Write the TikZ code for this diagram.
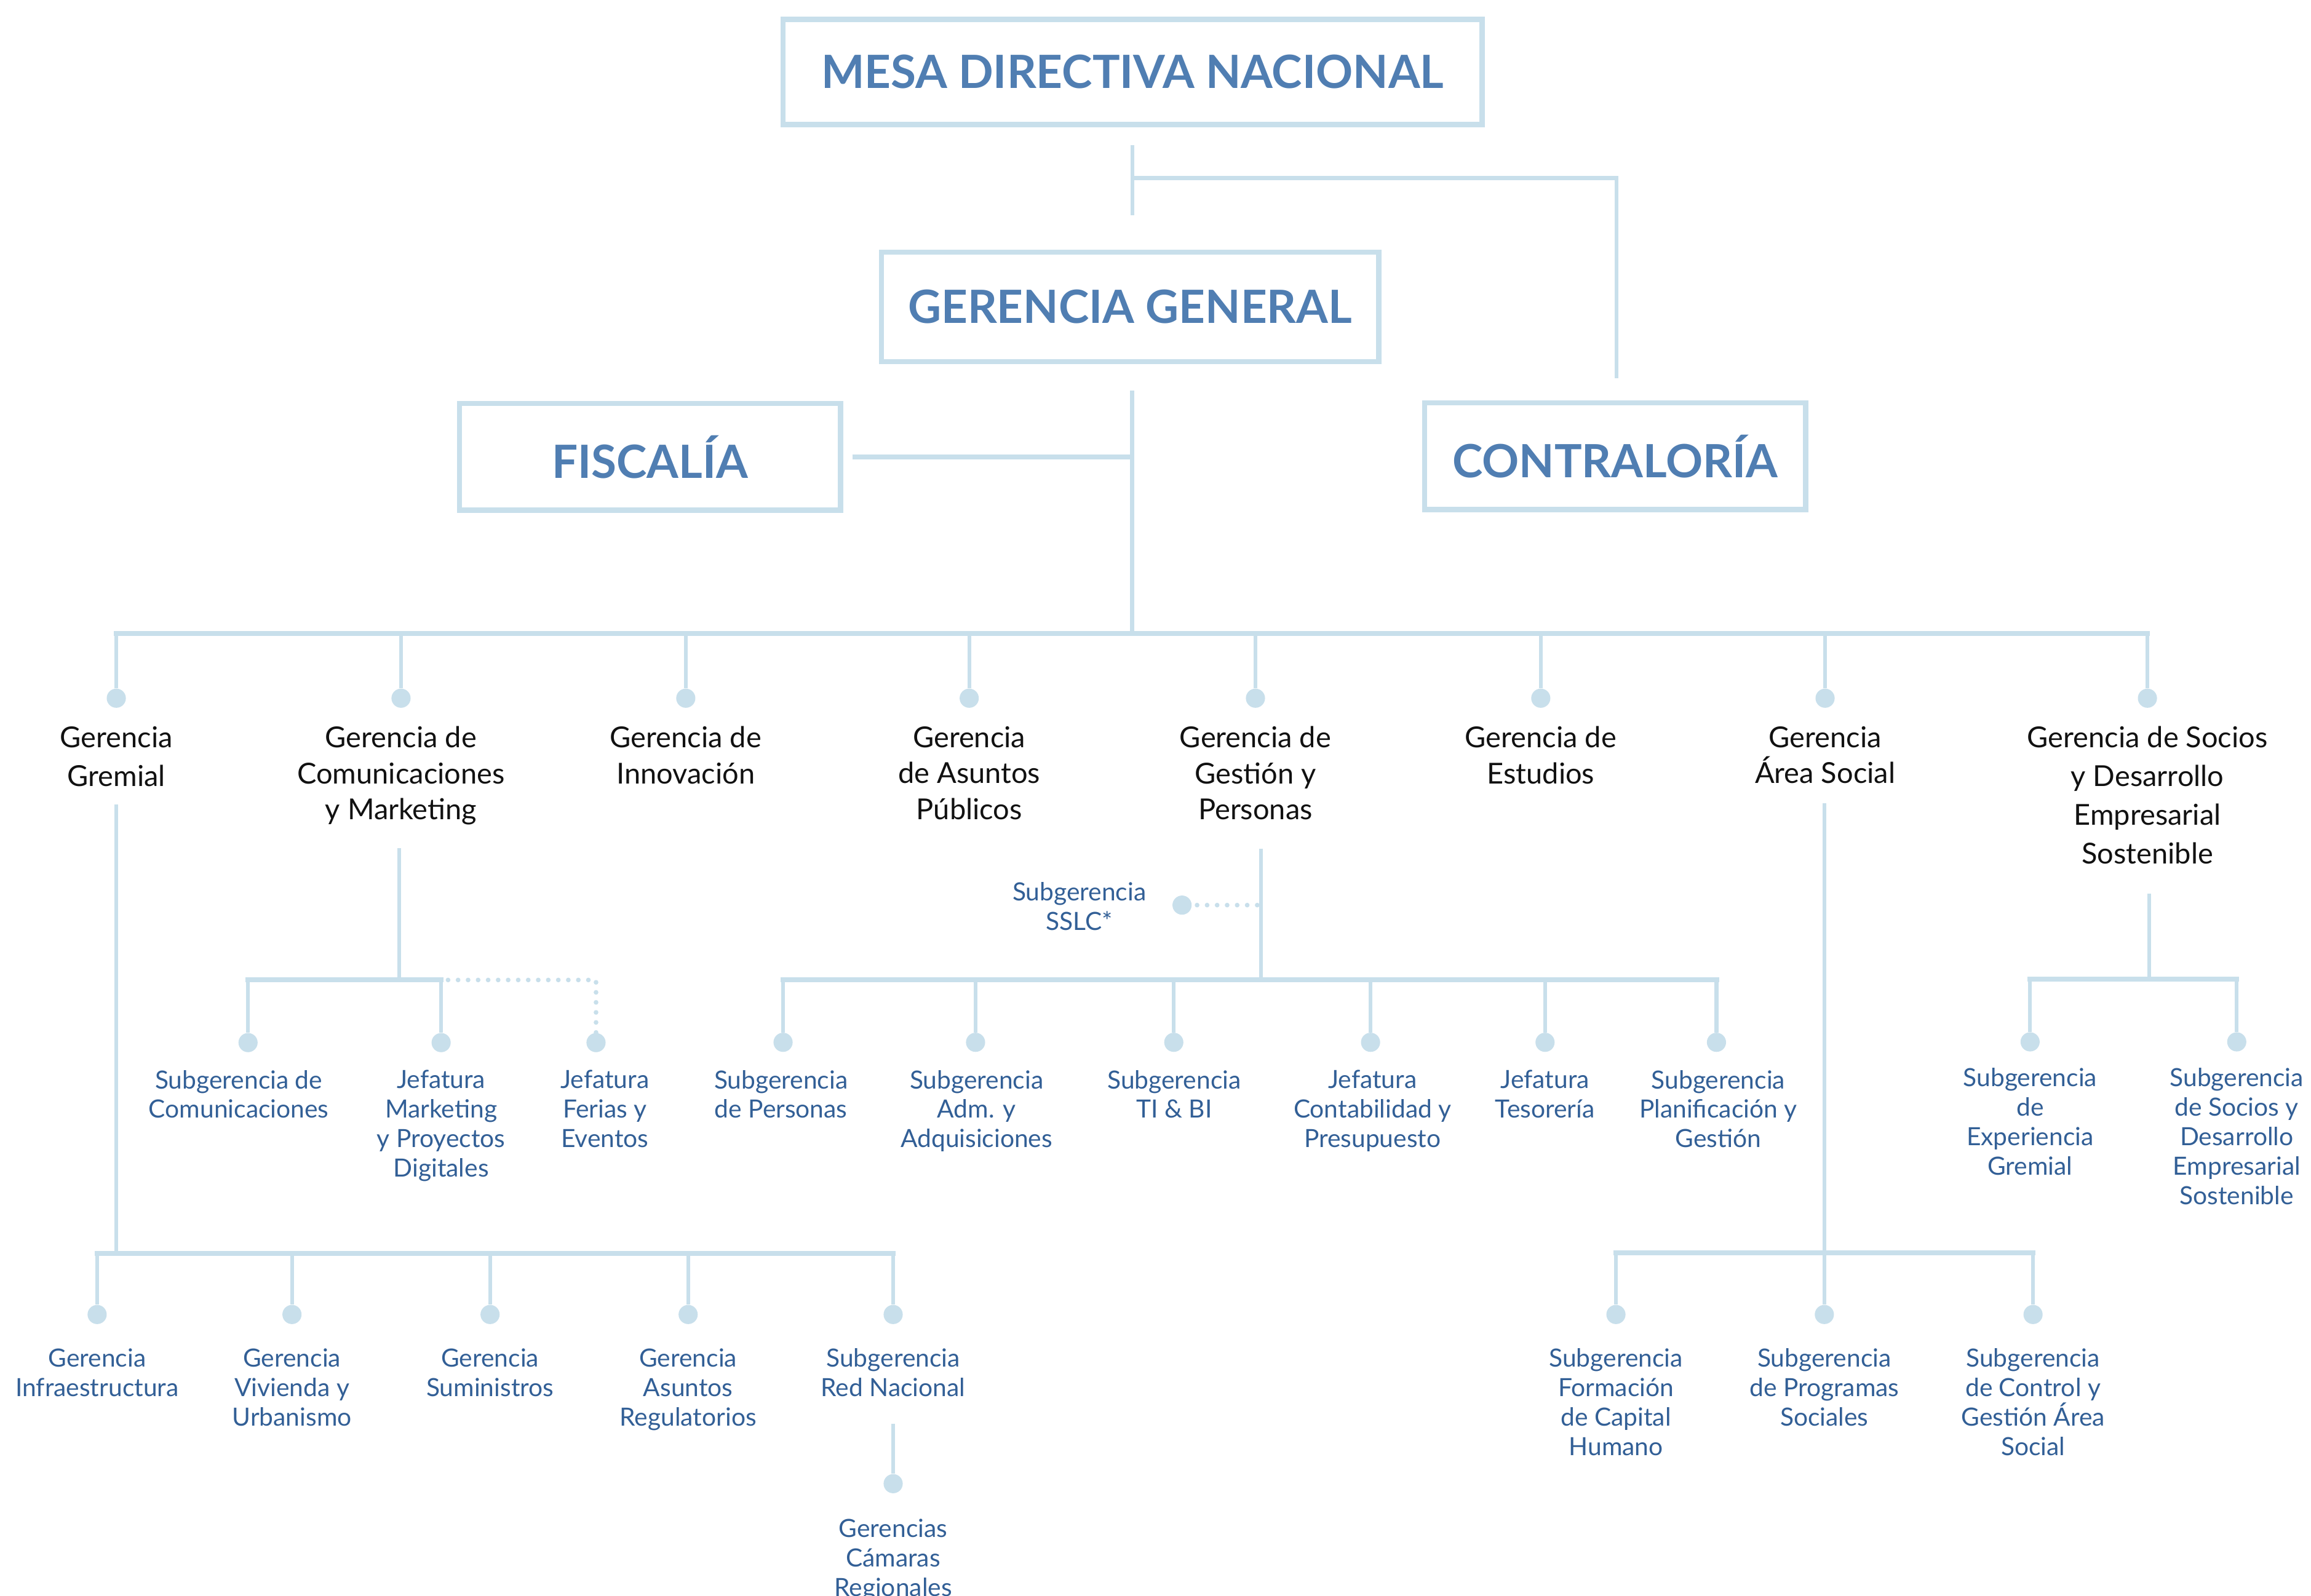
\documentclass[tikz,border=0pt]{standalone}
\usepackage{fontspec}
\setmainfont{Lato}
\definecolor{lb}{RGB}{200,223,235}
\definecolor{tb}{RGB}{80,126,178}
\definecolor{sb}{RGB}{50,95,150}
\definecolor{gk}{RGB}{17,17,17}
\tikzset{
  ln/.style={draw=lb, line width=2.6pt},
  busln/.style={draw=lb, line width=3.4pt, line cap=rect},
  dotln/.style={draw=lb, line width=3.2pt, line cap=round, dash pattern=on 0pt off 6.8pt},
  box/.style={draw=lb, line width=3.6pt, inner sep=0pt, text=tb,
    font=\fontsize{31.1}{36}\selectfont\bfseries},
  knob/.style={circle, fill=lb, inner sep=0pt, minimum size=13pt},
  gl/.style={anchor=north, inner sep=0pt, align=center, text=gk,
    font=\fontsize{19.6}{24.5}\selectfont, execute at begin node={\rule{0pt}{16pt}}},
  glw/.style={gl, font=\fontsize{19.6}{26.3}\selectfont},
  sl/.style={anchor=north, inner sep=0pt, align=center, text=sb,
    font=\fontsize{17}{20}\selectfont, execute at begin node={\rule{0pt}{13.36pt}}}
}
\begin{document}
\begin{tikzpicture}[x=1pt,y=-1pt]
\useasboundingbox (0,0) rectangle (1568,1083);
% top boxes
\node[box, minimum width=474.2pt, minimum height=71.3pt] (mesa) at (768.4,48.75) {MESA DIRECTIVA NACIONAL};
\node[box, minimum width=337.4pt, minimum height=74.3pt] (gg) at (766.7,208.2) {GERENCIA GENERAL};
\node[box, minimum width=258.6pt, minimum height=72.5pt] (fisc) at (441,310) {FISCALÍA};
\node[box, minimum width=258.5pt, minimum height=72.4pt] (contra) at (1095.9,309.6) {CONTRALORÍA};
% connectors top
\coordinate (mtop) at (768.3,98.6);
\coordinate (mbot) at (768.3,146.2);
\coordinate (mj) at (768.3,120.8);
\coordinate (ctop) at (1096.7,256.6);
\draw[ln] (mtop) -- (mbot);
\draw[ln] (mj) -| (ctop);
\coordinate (gtop) at (768.1,265);
\coordinate (bj) at (768.1,430);
\coordinate (fj) at (768.1,310);
\coordinate (fe) at (578.3,310);
\draw[ln] (gtop) -- (bj);
\draw[draw=lb, line width=3.4pt] (fe) -- (fj);
% main bus
\foreach \n/\x in {1/78.9,2/272.1,3/465.3,4/657.6,5/851.8,6/1045.4,7/1238.3,8/1457}{
  \node[knob] (d\n) at (\x,473.8) {};
  \coordinate (t\n) at (\x,430);
  \draw[ln] (t\n) -- (d\n);
}
\draw[busln] (t1) -- (t8);
% main labels
\node[glw] (g1) at (79,492.6) {Gerencia\\Gremial};
\node[gl] (g2) at (272.1,492.6) {Gerencia de\\Comunicaciones\\y Marketing};
\node[gl] (g3) at (465.3,492.6) {Gerencia de\\Innovación};
\node[gl] (g4) at (657.6,492.6) {Gerencia\\de Asuntos\\Públicos};
\node[gl] (g5) at (851.8,492.6) {Gerencia de\\Gestión y\\Personas};
\node[gl] (g6) at (1045.4,492.6) {Gerencia de\\Estudios};
\node[gl] (g7) at (1238.3,492.6) {Gerencia\\Área Social};
\node[glw] (g8) at (1457,492.6) {Gerencia de Socios\\y Desarrollo\\Empresarial\\Sostenible};
% Comunicaciones subtree
\coordinate (c0) at (270.9,575.7);
\coordinate (cj) at (270.9,665);
\draw[ln] (c0) -- (cj);
\node[knob] (c1) at (168.3,707.5) {};
\node[knob] (c2) at (299.3,707.5) {};
\node[knob] (c3) at (404.4,707.5) {};
\coordinate (c1t) at (168.3,665);
\coordinate (c2t) at (299.3,665);
\coordinate (c3d) at (304,665);
\coordinate (c3t) at (404.4,665);
\coordinate (c3b) at (404.4,700.8);
\draw[ln] (c1t) -- (c1);
\draw[ln] (c2t) -- (c2);
\draw[busln] (c1t) -- (c2t);
\draw[dotln] (c3d) -- (c3t) -- (c3b);
\node[sl] (s1) at (162,726) {Subgerencia de\\Comunicaciones};
\node[sl] (s2) at (299.3,726) {Jefatura\\Marketing\\y Proyectos\\Digitales};
\node[sl] (s3) at (410.4,726) {Jefatura\\Ferias y\\Eventos};
% Gestion subtree
\coordinate (p0) at (855.6,575.9);
\coordinate (pj) at (855.6,665);
\draw[ln] (p0) -- (pj);
\coordinate (pssl) at (853,614.2);
\node[knob] (ssl) at (802,614.2) {};
\draw[dotln] (pssl) -- (ssl.east);
\node[sl] (sslc) at (732.3,598.5) {Subgerencia\\SSLC*};
\foreach \n/\x in {1/531.3,2/661.9,3/796.4,4/929.9,5/1048.3,6/1164.6}{
  \node[knob] (p\n) at (\x,707.3) {};
  \coordinate (pt\n) at (\x,665);
  \draw[ln] (pt\n) -- (p\n);
}
\draw[busln] (pt1) -- (pt6);
\node[sl] (q1) at (529.9,726) {Subgerencia\\de Personas};
\node[sl] (q2) at (662.6,726) {Subgerencia\\Adm. y\\Adquisiciones};
\node[sl] (q3) at (796.7,726) {Subgerencia\\TI \& BI};
\node[sl] (q4) at (931.2,726) {Jefatura\\Contabilidad y\\Presupuesto};
\node[sl] (q5) at (1048.3,726) {Jefatura\\Tesorería};
\node[sl] (q6) at (1165.8,726) {Subgerencia\\Planificación y\\Gestión};
% Socios subtree
\coordinate (o0) at (1458.3,606.4);
\coordinate (oj) at (1458.3,664.6);
\draw[ln] (o0) -- (oj);
\node[knob] (o1) at (1377.4,707) {};
\node[knob] (o2) at (1517.6,707) {};
\coordinate (ot1) at (1377.4,664.6);
\coordinate (ot2) at (1517.6,664.6);
\draw[ln] (ot1) -- (o1);
\draw[ln] (ot2) -- (o2);
\draw[busln] (ot1) -- (ot2);
\node[sl] (r1) at (1377.4,724.5) {Subgerencia\\de\\Experiencia\\Gremial};
\node[sl] (r2) at (1517.6,724.5) {Subgerencia\\de Socios y\\Desarrollo\\Empresarial\\Sostenible};
% Gremial subtree
\coordinate (e0) at (79,545.7);
\coordinate (ej) at (79,850.5);
\draw[ln] (e0) -- (ej);
\foreach \n/\x in {1/65.9,2/198.1,3/332.5,4/466.9,5/606}{
  \node[knob] (e\n) at (\x,892) {};
  \coordinate (et\n) at (\x,850.5);
  \draw[ln] (et\n) -- (e\n);
}
\draw[busln] (et1) -- (et5);
\node[sl] (f1) at (65.9,915) {Gerencia\\Infraestructura};
\node[sl] (f2) at (198.1,915) {Gerencia\\Vivienda y\\Urbanismo};
\node[sl] (f3) at (332.5,915) {Gerencia\\Suministros};
\node[sl] (f4) at (466.9,915) {Gerencia\\Asuntos\\Regulatorios};
\node[sl] (f5) at (606,915) {Subgerencia\\Red Nacional};
\coordinate (rn0) at (606,966);
\node[knob] (rn) at (606,1006.8) {};
\draw[ln] (rn0) -- (rn);
\node[sl] (f6) at (606,1030.5) {Gerencias\\Cámaras\\Regionales};
% Area social subtree
\coordinate (a0) at (1237.8,545);
\coordinate (aj) at (1237.8,850);
\draw[ln] (a0) -- (aj);
\foreach \n/\x in {1/1096.4,2/1237.8,3/1379.4}{
  \node[knob] (a\n) at (\x,892) {};
  \coordinate (at\n) at (\x,850);
  \draw[ln] (at\n) -- (a\n);
}
\draw[busln] (at1) -- (at3);
\node[sl] (h1) at (1096.4,915) {Subgerencia\\Formación\\de Capital\\Humano};
\node[sl] (h2) at (1237.8,915) {Subgerencia\\de Programas\\Sociales};
\node[sl] (h3) at (1379.4,915) {Subgerencia\\de Control y\\Gestión Área\\Social};
\end{tikzpicture}
\end{document}
